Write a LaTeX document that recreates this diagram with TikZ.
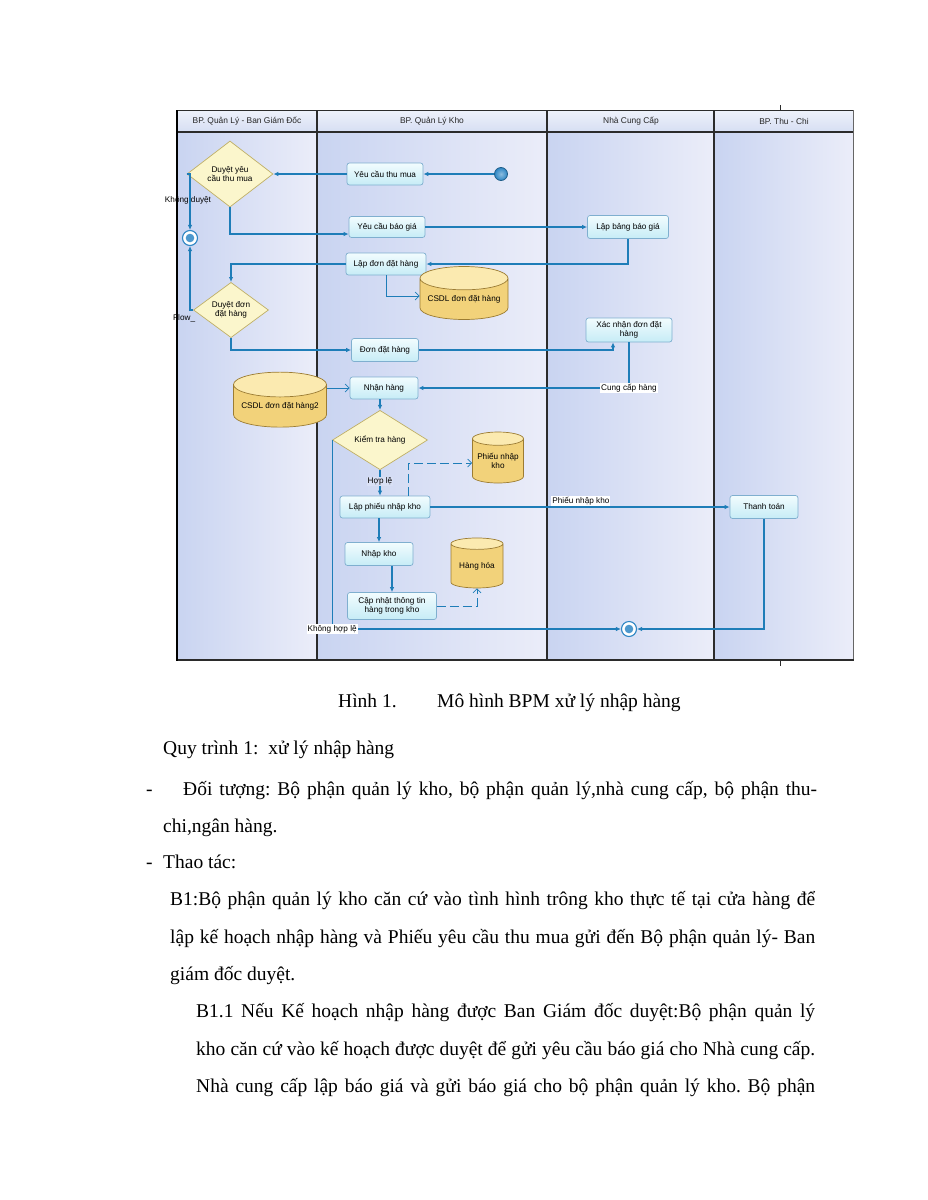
\documentclass[tikz,border=0pt]{standalone}
\usepackage{fontspec}
\setmainfont{Liberation Serif}
\newfontfamily\dsans{Liberation Sans}
\usetikzlibrary{arrows.meta,shapes.geometric,calc}
\frenchspacing
\definecolor{laneL}{HTML}{C9D4F1}
\definecolor{laneR}{HTML}{EBEDF9}
\definecolor{laneM}{HTML}{D9E0F5}
\definecolor{headC}{HTML}{D6DEF3}
\definecolor{flowC}{HTML}{1E7DB8}
\definecolor{actT}{HTML}{F2FCFE}
\definecolor{actBo}{HTML}{C6ECF6}
\definecolor{actD}{HTML}{7FAFCF}
\definecolor{decF}{HTML}{FBF6CC}
\definecolor{decD}{HTML}{BFAF66}
\definecolor{stBody}{HTML}{F2D27A}
\definecolor{stTop}{HTML}{FBEAB0}
\definecolor{stD}{HTML}{9C7C32}
\definecolor{frameC}{HTML}{2B2B2B}
\definecolor{endC}{HTML}{2E86C4}
\begin{document}
\begin{tikzpicture}[x=1pt,y=-1pt,
  lanebody/.style={left color=laneL,right color=laneR,draw=none},
  lanehead/.style={top color=headC!40!white,bottom color=headC,draw=none},
  headtxt/.style={font=\dsans\fontsize{8.4}{9}\selectfont,text=black!85},
  dfont/.style={font=\dsans\fontsize{8.2}{9.4}\selectfont},
  act/.style={dfont,draw=actD,line width=0.7pt,rounded corners=2.5pt,top color=actT,bottom color=actBo,align=center,inner sep=1pt},
  dec/.style={dfont,diamond,draw=decD,line width=0.7pt,fill=decF,align=center,inner sep=0pt},
  store/.style={dfont,cylinder,shape border rotate=90,aspect=0.32,draw=stD,line width=0.7pt,cylinder uses custom fill,cylinder body fill=stBody,cylinder end fill=stTop,align=center,inner sep=0pt},
  startev/.style={circle,draw=endC!70!black,line width=0.8pt,inner color=endC!55!white,outer color=endC,minimum size=13pt,inner sep=0pt},
  endev/.style={circle,draw=endC,line width=1.1pt,fill=white,minimum size=15pt,inner sep=0pt,
     path picture={\fill[endC!85!white] (path picture bounding box.center) circle (4.3pt);}},
  flow/.style={draw=flowC,line width=1.1pt,-{Latex[length=5pt,width=4.5pt]}},
  dflow/.style={draw=flowC,line width=0.7pt,-{Straight Barb[length=4pt,width=8pt]}},
  dashflow/.style={dflow,dash pattern=on 9pt off 4pt},
  lbl/.style={dfont,inner sep=1pt},
  body/.style={font=\fontsize{19.5}{23}\selectfont,inner sep=0pt,anchor=base west},
]
\useasboundingbox (0,0) rectangle (927,1200);
\fill[white] (0,0) rectangle (927,1200);

% lanes
\fill[lanebody] (177,132) rectangle (317,660);
\fill[lanebody] (317,132) rectangle (547,660);
\fill[lanebody] (547,132) rectangle (714,660);
\fill[lanebody] (714,132) rectangle (853,660);
\fill[lanehead] (177,110) rectangle (853,132);
\node[headtxt] (h1) at (247,121) {BP. Quản Lý - Ban Giám Đốc};
\node[headtxt] (h2) at (432,121) {BP. Quản Lý Kho};
\node[headtxt] (h3) at (631,121) {Nhà Cung Cấp};
\node[headtxt] (h4) at (784,121) {BP. Thu - Chi};
\draw[frameC,line width=1pt] (177,110) -- (853,110);
\draw[frameC,line width=1.2pt] (177,132) -- (853,132);
\draw[frameC,line width=1.3pt] (317,110) -- (317,660);
\draw[frameC,line width=1.3pt] (547,110) -- (547,660);
\draw[frameC,line width=1.3pt] (714,110) -- (714,660);
\draw[black!60,line width=0.8pt] (853,110) -- (853,660);
\draw[frameC,line width=2pt] (176,660) -- (854,660);
\draw[black,line width=2.2pt] (177,110) -- (177,661);
\draw[frameC,line width=1pt] (780,105) -- (780,110);
\draw[frameC,line width=1pt] (780,660) -- (780,666);

% nodes
\node[startev] (st) at (501,174) {};
\node[act,minimum width=76pt,minimum height=22pt] (ycTM) at (385,174) {Yêu cầu thu mua};
\node[dec,minimum width=86pt,minimum height=66pt] (dYC) at (230,174) {Duyệt yêu\\cầu thu mua};
\node[endev] (eA) at (190,238) {};
\node[act,minimum width=76pt,minimum height=21pt] (ycBG) at (387,227) {Yêu cầu báo giá};
\node[act,minimum width=81pt,minimum height=23pt] (lbBG) at (628,227) {Lập bảng báo giá};
\node[act,minimum width=80pt,minimum height=22pt] (ldDH) at (386,264) {Lập đơn đặt hàng};
\node[store,minimum width=88pt,minimum height=53pt] (db1) at (464,299) {CSDL đơn đặt hàng};
\node[dec,minimum width=75pt,minimum height=50pt] (dDH) at (231,310) {Duyệt đơn\\đặt hàng};
\node[act,minimum width=67pt,minimum height=23pt] (ddh) at (385,350) {Đơn đặt hàng};
\node[act,minimum width=86pt,minimum height=24pt] (xn) at (629,330) {Xác nhận đơn đặt\\hàng};
\node[act,minimum width=68pt,minimum height=22pt] (nh) at (384,388) {Nhận hàng};
\node[store,minimum width=93pt,minimum height=55pt] (db2) at (280,406) {CSDL đơn đặt hàng2};
\node[dec,minimum width=95pt,minimum height=33pt] (kt) at (380,440) {Kiểm tra hàng};
\node[store,minimum width=51pt,minimum height=51pt] (pnk) at (498,461) {Phiếu nhập\\kho};
\node[act,minimum width=90pt,minimum height=22pt] (lp) at (385,507) {Lập phiếu nhập kho};
\node[act,minimum width=68pt,minimum height=23pt] (tt) at (764,507) {Thanh toán};
\node[act,minimum width=68pt,minimum height=23pt] (nk) at (379,554) {Nhập kho};
\node[act,minimum width=89pt,minimum height=27pt] (cn) at (392,606) {Cập nhật thông tin\\hàng trong kho};
\node[store,minimum width=52pt,minimum height=50pt] (hh) at (477,566) {Hàng hóa};
\node[endev] (eB) at (629,629) {};
\coordinate (yA) at (0,296);
\coordinate (yB) at (0,463);

% connectors
\draw[flow] (st.west) -- (ycTM.east);
\draw[flow] (ycTM.west) -- (dYC.east);
\draw[flow] (dYC.south) |- ([yshift=-7pt]ycBG.west);
\draw[flow] (ycBG.east) -- (lbBG.west);
\draw[flow] (lbBG.south) |- (ldDH.east);
\draw[flow] (ldDH.west) -| (dDH.north);
\draw[dflow] (ldDH.south) |- (db1.west |- yA);
\draw[flow] (dYC.west) -| (eA.north);
\node[lbl] (lkd) at (188,200) {Không duyệt};
\draw[flow] (dDH.west) -| (eA.south);
\node[lbl,anchor=west] (lfl) at (172,318) {Flow\_};
\draw[flow] (dDH.south) |- (ddh.west);
\draw[flow] (ddh.east) -| ([xshift=-16pt]xn.south);
\draw[flow] (xn.south) |- node[lbl,fill=white,pos=0.5] (lcc) {Cung cấp hàng} (nh.east);
\draw[dflow] (db2.east |- nh.west) -- (nh.west);
\draw[flow] (kt.north |- nh.south) -- (kt.north);
\draw[flow] (kt.south) -- node[lbl,fill=laneM,pos=0.45] (lhl) {Hợp lệ} (kt.south |- lp.north);
\draw[flow] (nk.north |- lp.south) -- (nk.north);
\draw[flow] (cn.north |- nk.south) -- (cn.north);
\draw[dashflow] (cn.east) -| (hh.south);
\draw[dashflow] ([xshift=23pt]lp.north) |- (pnk.west |- yB);
\draw[flow] (lp.east) -- node[lbl,fill=white,pos=0.503,anchor=south,yshift=0.6pt] (lpn) {Phiếu nhập kho} (tt.west);
\draw[flow] (tt.south) |- (eB.east);
\draw[flow] (kt.west) |- node[lbl,fill=white,pos=0.5] (lkh) {Không hợp lệ} (eB.west);

% text below
\node[body] (cap1) at (338,707) {Hình 1.};
\node[body] (cap2) at (437,707) {Mô hình BPM xử lý nhập hàng};
\node[body] (t1) at (163,754) {Quy trình 1:\ \ xử lý nhập hàng};
\node[body] (d1) at (146,795) {-};
\node[body] (t2) at (183,795) {\makebox[634pt][s]{Đối tượng: Bộ phận quản lý kho, bộ phận quản lý,nhà cung cấp, bộ phận thu-}};
\node[body] (t3) at (163,832) {chi,ngân hàng.};
\node[body] (d2) at (146,868) {-};
\node[body] (t4) at (163,868) {Thao tác:};
\node[body] (t5) at (170,905) {\makebox[645pt][s]{B1:Bộ phận quản lý kho căn cứ vào tình hình trông kho thực tế tại cửa hàng để}};
\node[body] (t6) at (170,943) {\makebox[645pt][s]{lập kế hoạch nhập hàng và Phiếu yêu cầu thu mua gửi đến Bộ phận quản lý- Ban}};
\node[body] (t7) at (170,980) {giám đốc duyệt.};
\node[body] (t8) at (196,1017) {\makebox[619pt][s]{B1.1 Nếu Kế hoạch nhập hàng được Ban Giám đốc duyệt:Bộ phận quản lý}};
\node[body] (t9) at (196,1055) {\makebox[619pt][s]{kho căn cứ vào kế hoạch được duyệt để gửi yêu cầu báo giá cho Nhà cung cấp.}};
\node[body] (t10) at (196,1092) {\makebox[619pt][s]{Nhà cung cấp lập báo giá và gửi báo giá cho bộ phận quản lý kho. Bộ phận}};
\end{tikzpicture}
\end{document}
